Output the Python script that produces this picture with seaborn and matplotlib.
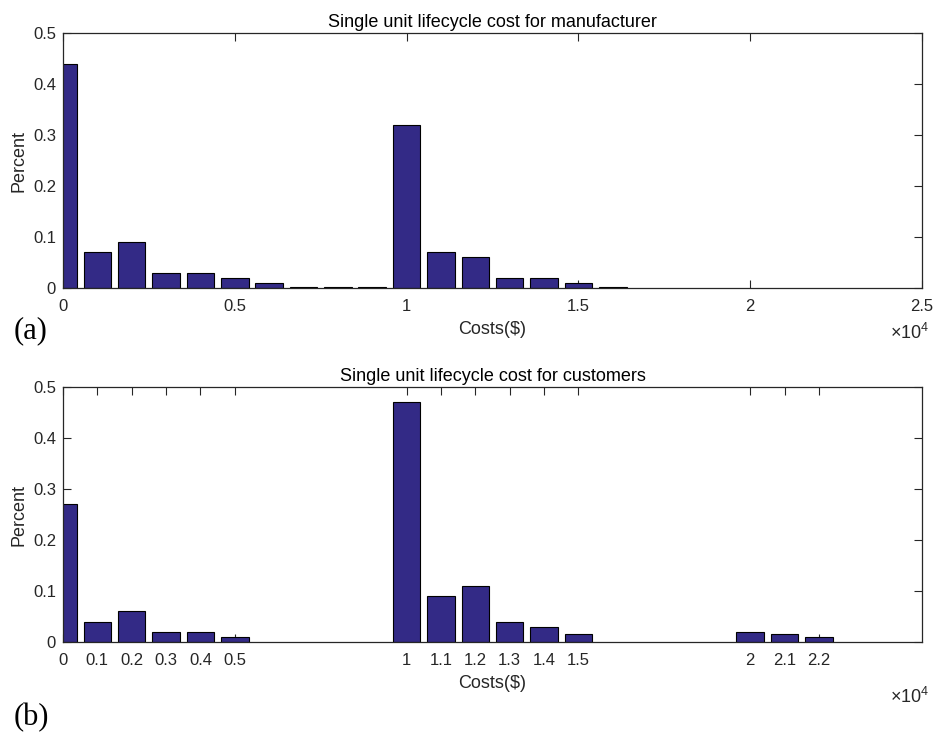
import numpy as np
import pandas as pd
import matplotlib
matplotlib.use("Agg")
import matplotlib.pyplot as plt
import seaborn as sns

# Bin centres (US$) and the share of units falling in each cost bin
manufacturer_costs = [0, 1000, 2000, 3000, 4000, 5000, 6000, 7000, 8000, 9000,
                      10000, 11000, 12000, 13000, 14000, 15000, 16000]
manufacturer_share = [0.44, 0.07, 0.09, 0.03, 0.03, 0.02, 0.01, 0.001, 0.001, 0.001,
                      0.32, 0.07, 0.06, 0.02, 0.02, 0.01, 0.001]

customer_costs = [0, 1000, 2000, 3000, 4000, 5000,
                  10000, 11000, 12000, 13000, 14000, 15000,
                  20000, 21000, 22000]
customer_share = [0.27, 0.04, 0.06, 0.02, 0.02, 0.01,
                  0.47, 0.09, 0.11, 0.04, 0.03, 0.015,
                  0.02, 0.015, 0.01]

top_ticks = [0, 5000, 10000, 15000, 20000, 25000]
bottom_ticks = customer_costs
y_ticks = [0, 0.1, 0.2, 0.3, 0.4, 0.5]

titles = ["Single unit lifecycle cost for manufacturer",
          "Single unit lifecycle cost for customers"]
panel_tags = ["(a)", "(b)"]

sns.set_theme(style="white")
plt.rcParams["font.family"] = ["Liberation Sans", "DejaVu Sans"]
plt.rcParams["mathtext.fontset"] = "custom"
plt.rcParams["mathtext.rm"] = "Liberation Sans"

bar_color = "#332a86"
text_color = "#262626"

W, H = 934, 733
fig = plt.figure(figsize=(W / 100, H / 100), dpi=100)
ax_top = fig.add_axes([63 / W, 1 - 288 / H, (922 - 63) / W, (288 - 33) / H])
ax_bot = fig.add_axes([63 / W, 1 - 642 / H, (922 - 63) / W, (642 - 387) / H])

panels = [
    (ax_top, manufacturer_costs, manufacturer_share, top_ticks, 333),
    (ax_bot, customer_costs, customer_share, bottom_ticks, 697),
]

for i, (ax, costs, share, ticks, exp_y) in enumerate(panels):
    df = pd.DataFrame({"cost": costs, "share": share})
    sns.barplot(data=df, x="cost", y="share", native_scale=True, width=0.8,
                color=bar_color, saturation=1, edgecolor="black", linewidth=0.8,
                ax=ax)
    ax.set_xlim(0, 25000)
    ax.set_ylim(0, 0.5)
    ax.set_yticks(y_ticks)
    ax.set_yticklabels(["%g" % v for v in y_ticks])
    ax.set_xticks(ticks)
    ax.set_xticklabels(["%g" % (t / 1e4) for t in ticks])
    ax.tick_params(direction="in", length=6, width=0.8, top=True, right=True,
                   bottom=True, left=True, labelsize=12, colors=text_color)
    ax.tick_params(axis="x", pad=8)
    ax.tick_params(axis="y", pad=5)
    for sp in ax.spines.values():
        sp.set_visible(True)
        sp.set_color("#262626")
        sp.set_linewidth(0.9)
    ax.set_xlabel("Costs($)", fontsize=13, color=text_color)
    ax.xaxis.set_label_coords(0.5, -33 / 255)
    ax.set_ylabel("Percent", fontsize=13, color=text_color)
    ax.yaxis.set_label_coords(-0.041, 0.5)
    ax.set_title(titles[i], fontsize=13, color="black", pad=4)
    ax.grid(False)
    fig.text(929 / W, 1 - exp_y / H, r"$\times10^{4}$", ha="right", va="center",
             fontsize=13, color=text_color)

fig.text(14 / W, 1 - 331 / H, panel_tags[0], family="Liberation Serif",
         fontsize=22, ha="left", va="center", color="black")
fig.text(14 / W, 1 - 718 / H, panel_tags[1], family="Liberation Serif",
         fontsize=22, ha="left", va="center", color="black")

fig.savefig("out.png", dpi=100, facecolor="white")
